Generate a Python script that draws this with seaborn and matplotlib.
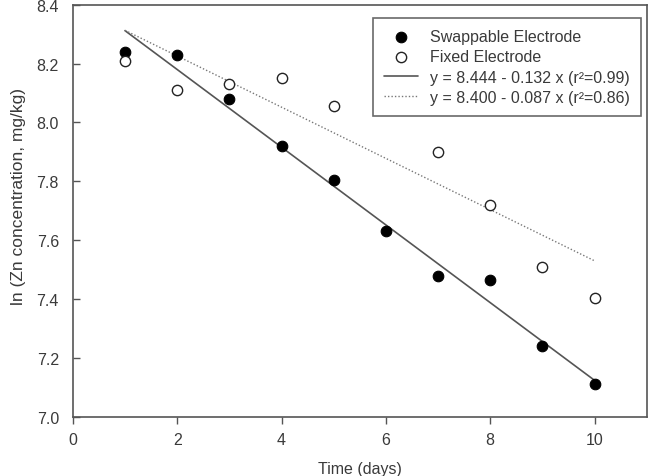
import numpy as np
import pandas as pd
import matplotlib
matplotlib.use("Agg")
import matplotlib.pyplot as plt
import seaborn as sns

# ==============================================================================
# DATA
# ==============================================================================
days_swap = [1, 2, 3, 4, 5, 6, 7, 8, 9, 10]
ln_zn_swap = [8.24, 8.23, 8.08, 7.92, 7.805, 7.63, 7.48, 7.465, 7.24, 7.11]

days_fixed = [1, 2, 3, 4, 5, 7, 8, 9, 10]
ln_zn_fixed = [8.21, 8.11, 8.13, 8.15, 8.055, 7.90, 7.72, 7.51, 7.405]

# regression coefficients as printed in the legend
fit_swap = (8.444, -0.132)
fit_fixed = (8.400, -0.087)
fit_range = [1, 10]

label_swap = "Swappable Electrode"
label_fixed = "Fixed Electrode"
label_fit_swap = "y = 8.444 - 0.132 x (r\u00b2=0.99)"
label_fit_fixed = "y = 8.400 - 0.087 x (r\u00b2=0.86)"

x_ticks = [0, 2, 4, 6, 8, 10]
y_ticks = [7.0, 7.2, 7.4, 7.6, 7.8, 8.0, 8.2, 8.4]

# ==============================================================================
# PLOT
# ==============================================================================
sns.set_style("ticks")
plt.rcParams["font.family"] = ["Liberation Sans", "DejaVu Sans"]
TXT = "#3a3a3a"
FS = 11.5

df_swap = pd.DataFrame({"day": days_swap, "ln": ln_zn_swap})
df_fixed = pd.DataFrame({"day": days_fixed, "ln": ln_zn_fixed})
xs = np.array(fit_range, dtype=float)
df_line_swap = pd.DataFrame({"day": xs, "ln": fit_swap[0] + fit_swap[1] * xs})
df_line_fixed = pd.DataFrame({"day": xs, "ln": fit_fixed[0] + fit_fixed[1] * xs})

fig = plt.figure(figsize=(6.5, 4.77), dpi=100)
ax = fig.add_axes([0.112, 0.124, 0.883, 0.864])

sns.scatterplot(data=df_swap, x="day", y="ln", ax=ax, color="black",
                edgecolor="black", s=58, linewidth=0.8, label=label_swap, zorder=3)
sns.scatterplot(data=df_fixed, x="day", y="ln", ax=ax, facecolor="white",
                edgecolor="#222222", s=55, linewidth=1.0, label=label_fixed, zorder=3)
sns.lineplot(data=df_line_swap, x="day", y="ln", ax=ax, color="#555555",
             linewidth=1.2, label=label_fit_swap, zorder=2)
sns.lineplot(data=df_line_fixed, x="day", y="ln", ax=ax, color="#777777",
             linewidth=1.0, linestyle=(0, (1, 1.5)), label=label_fit_fixed, zorder=2)

ax.set_xlim(0, 11)
ax.set_ylim(7.0, 8.4)
ax.set_xticks(x_ticks)
ax.set_yticks(y_ticks)
ax.set_yticklabels([f"{v:.1f}" for v in y_ticks])

for side in ["left", "right", "top", "bottom"]:
    ax.spines[side].set_visible(True)
    ax.spines[side].set_color("#555555")
    ax.spines[side].set_linewidth(1.2)

# x ticks point out, y ticks point into the plot (as in the original)
ax.tick_params(axis="x", direction="out", length=5, width=1.0,
               colors="#555555", labelcolor=TXT, labelsize=FS, pad=6)
ax.tick_params(axis="y", direction="in", length=5, width=1.0,
               colors="#555555", labelcolor=TXT, labelsize=FS, pad=10)

ax.set_xlabel("Time (days)", fontsize=FS, color=TXT, labelpad=10)
ax.set_ylabel("ln (Zn concentration, mg/kg)", fontsize=12.5, color=TXT)
ax.yaxis.set_label_coords(-0.082, 0.536)

leg = ax.legend(loc="upper left", bbox_to_anchor=(0.523, 0.968), borderaxespad=0,
                fancybox=False, frameon=True, fontsize=FS, labelspacing=0.33,
                handlelength=2.1, handletextpad=0.75, borderpad=0.7)
leg.get_frame().set_edgecolor("#444444")
leg.get_frame().set_linewidth(1.2)
for t in leg.get_texts():
    t.set_color(TXT)

fig.savefig("out.png", dpi=100)
plt.close(fig)
